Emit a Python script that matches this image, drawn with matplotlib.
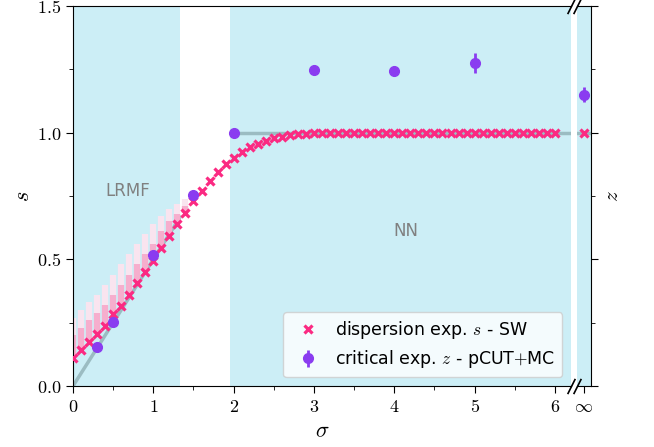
import matplotlib
matplotlib.use('Agg')

import matplotlib.pyplot as plt
from matplotlib.ticker import MultipleLocator, FuncFormatter

plt.rcParams['mathtext.fontset'] = 'cm'
plt.rcParams['font.family'] = 'DejaVu Sans'

#************* data *************
# spin-wave dispersion exponent s(sigma)
sigma_sw = [0.0, 0.1, 0.2, 0.3, 0.4, 0.5, 0.6, 0.7, 0.8, 0.9,
            1.0, 1.1, 1.2, 1.3, 1.4, 1.5, 1.6, 1.7, 1.8, 1.9,
            2.0, 2.1, 2.2, 2.3, 2.4, 2.5, 2.6, 2.7, 2.8, 2.9,
            3.0, 3.1, 3.2, 3.3, 3.4, 3.5, 3.6, 3.7, 3.8, 3.9,
            4.0, 4.1, 4.2, 4.3, 4.4, 4.5, 4.6, 4.7, 4.8, 4.9,
            5.0, 5.1, 5.2, 5.3, 5.4, 5.5, 5.6, 5.7, 5.8, 5.9, 6.0]
s_sw = [0.112, 0.142, 0.174, 0.205, 0.238, 0.283, 0.317, 0.360, 0.405, 0.450,
        0.495, 0.546, 0.592, 0.638, 0.684, 0.729, 0.770, 0.809, 0.844, 0.875,
        0.901, 0.924, 0.942, 0.957, 0.968, 0.977, 0.984, 0.989, 0.993, 0.995,
        0.997, 0.998, 0.999, 1.0, 1.0, 1.0, 1.0, 1.0, 1.0, 1.0,
        1.0, 1.0, 1.0, 1.0, 1.0, 1.0, 1.0, 1.0, 1.0, 1.0,
        1.0, 1.0, 1.0, 1.0, 1.0, 1.0, 1.0, 1.0, 1.0, 1.0, 1.0]
s_inf = 1.0

# faded spread of the SW values at small sigma (lower end = s_sw)
sigma_band = [0.0, 0.1, 0.2, 0.3, 0.4, 0.5, 0.6, 0.7, 0.8, 0.9, 1.0, 1.1, 1.2, 1.3, 1.4, 1.5]
band_dense = [0.20, 0.23, 0.26, 0.29, 0.32, 0.36, 0.40, 0.44, 0.48, 0.52, 0.56, 0.61, 0.65, 0.68, 0.71, 0.75]
band_faint = [0.27, 0.30, 0.33, 0.36, 0.40, 0.44, 0.48, 0.52, 0.56, 0.60, 0.64, 0.67, 0.70, 0.72, 0.74, 0.77]

# critical exponent z from pCUT+MC
sigma_z = [0.3, 0.5, 1.0, 1.5, 2.0, 3.0, 4.0, 5.0]
z_val = [0.152, 0.251, 0.516, 0.754, 1.0, 1.247, 1.242, 1.274]
z_err = [0.0, 0.0, 0.0, 0.0, 0.0, 0.01, 0.01, 0.04]
z_inf = 1.150
z_inf_err = 0.03

# mean-field / nearest-neighbour reference lines
mf_sigma = [0.0, 4/3]
mf_z = [0.0, 2/3]
nn_sigma = [2.0, 6.2]
nn_z = [1.0, 1.0]

lrmf_end = 4/3
nn_start = 1.96
sigma_max = 6.2

pink = '#fb2a82'
purple = '#8a3cf0'
shade = '#cceef6'
grey_line = '#8fb0b6'

#****************************** PLOT ******************************
fig = plt.figure(figsize=(6.54, 4.47), dpi=100)
ax = fig.add_axes([73/654, 1 - 386/447, (571 - 73)/654, 380/447])
ax_inf = fig.add_axes([577/654, 1 - 386/447, 14/654, 380/447])

# shaded regimes
ax.axvspan(0, lrmf_end, color=shade, lw=0, zorder=0)
ax.axvspan(nn_start, sigma_max, color=shade, lw=0, zorder=0)
ax_inf.set_facecolor(shade)

ax.plot(mf_sigma, mf_z, color=grey_line, lw=2.5, alpha=0.8, zorder=1)
ax.plot(nn_sigma, nn_z, color=grey_line, lw=2.5, alpha=0.8, zorder=1)
ax_inf.plot([-1, 1], [1, 1], color=grey_line, lw=2.5, alpha=0.8, zorder=1)

# faded spread
ax.vlines(sigma_band, s_sw[:len(sigma_band)], band_faint, color='#f9e4ef', lw=4.5, zorder=2)
ax.vlines(sigma_band, s_sw[:len(sigma_band)], band_dense, color='#f6aecd', lw=4.5, zorder=2)

ax.plot(sigma_sw, s_sw, ls='none', marker='x', ms=5.5, mew=2.3, color=pink, zorder=3,
        label=r'dispersion exp. $s$ - SW')
ax.errorbar(sigma_z, z_val, yerr=z_err, fmt='o', ms=7, color=purple, elinewidth=2,
            capsize=0, zorder=4, label=r'critical exp. $z$ - pCUT$+$MC')

ax_inf.plot([0], [s_inf], ls='none', marker='x', ms=5.5, mew=2.3, color=pink, zorder=3)
ax_inf.errorbar([0], [z_inf], yerr=[z_inf_err], fmt='o', ms=7, color=purple, elinewidth=2,
                capsize=0, zorder=4)

# text labels
ax.text(0.68, 0.77, 'LRMF', color='#808080', fontsize=12, ha='center', va='center')
ax.text(4.15, 0.61, 'NN', color='#808080', fontsize=12, ha='center', va='center')

# axes setup
ax.set_xlim(0, sigma_max)
ax.set_ylim(0, 1.5)
ax_inf.set_xlim(-1, 1)
ax_inf.set_ylim(0, 1.5)

ax.spines['right'].set_visible(False)
ax_inf.spines['left'].set_visible(False)

ax.xaxis.set_major_locator(MultipleLocator(1))
ax.xaxis.set_minor_locator(MultipleLocator(0.5))
ax.yaxis.set_major_locator(MultipleLocator(0.5))
ax.yaxis.set_minor_locator(MultipleLocator(0.25))
ax.xaxis.set_major_formatter(FuncFormatter(lambda v, p: '$%g$' % v))
ax.yaxis.set_major_formatter(FuncFormatter(lambda v, p: '$%.1f$' % v))
ax.tick_params(which='both', direction='out', labelsize=13, top=False, right=False)
ax.tick_params(which='major', length=5)
ax.tick_params(which='minor', length=3)

ax_inf.set_xticks([0])
ax_inf.set_xticklabels([r'$\infty$'])
ax_inf.yaxis.set_major_locator(MultipleLocator(0.5))
ax_inf.yaxis.set_minor_locator(MultipleLocator(0.25))
ax_inf.yaxis.tick_right()
ax_inf.tick_params(axis='y', which='both', labelright=False, labelleft=False, left=False)
ax_inf.tick_params(which='major', length=5, labelsize=13)
ax_inf.tick_params(which='minor', length=3)
ax_inf.yaxis.set_label_position('right')
ax_inf.set_ylabel('$z$', fontsize=15, labelpad=3)

ax.set_xlabel(r'$\sigma$', fontsize=16, labelpad=4)
ax.set_ylabel('$s$', fontsize=16, labelpad=3)

# break marks
kw = dict(marker=[(-0.5, -1), (0.5, 1)], markersize=11, linestyle='none', color='k',
          mec='k', mew=1.2, clip_on=False)
ax.plot([1, 1], [0, 1], transform=ax.transAxes, **kw)
ax_inf.plot([0, 0], [0, 1], transform=ax_inf.transAxes, **kw)

leg = ax.legend(loc='lower right', fontsize=12.5, frameon=True, fancybox=True,
                edgecolor='#cccccc', framealpha=0.8, handletextpad=0.6, labelspacing=0.4)
leg.get_frame().set_facecolor('white')

plt.savefig('out.png', dpi=100)
